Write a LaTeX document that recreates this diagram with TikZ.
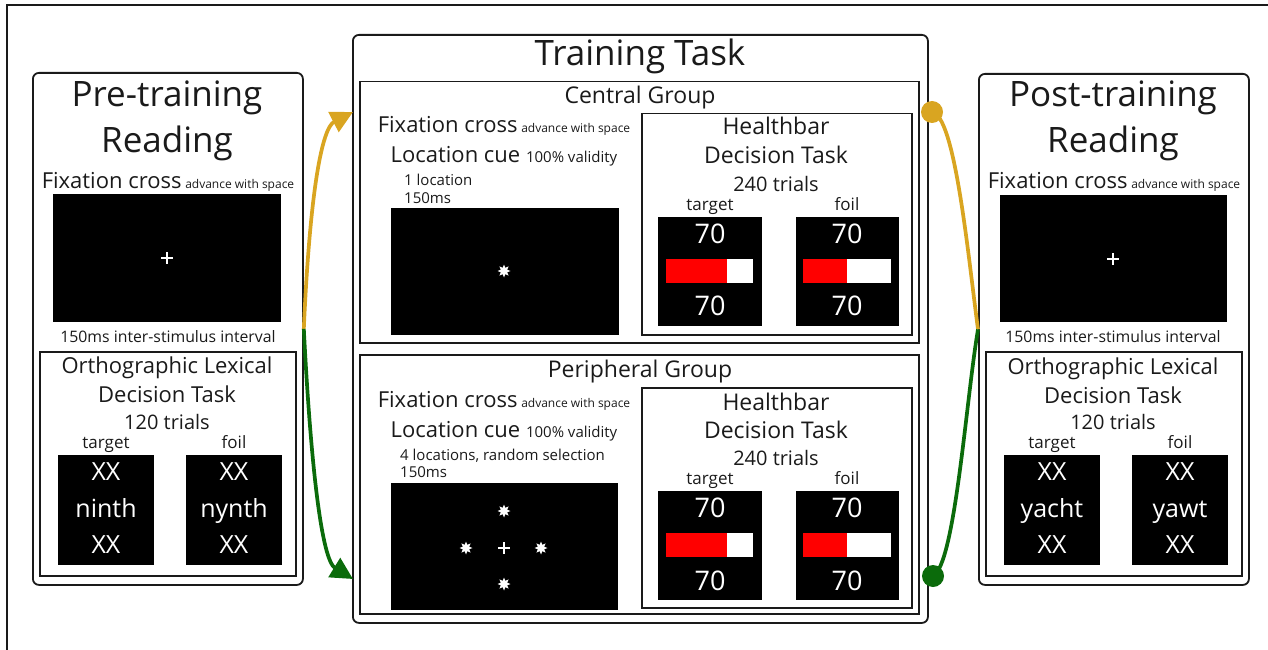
\documentclass[tikz,border=0pt]{standalone}
\usepackage{fontspec}
\setmainfont{Open Sans}
\usetikzlibrary{arrows.meta,shapes.geometric}
\definecolor{gold}{HTML}{D9A521}
\definecolor{dgreen}{HTML}{0B6B0B}
\definecolor{barred}{HTML}{FF0000}
\definecolor{ink}{HTML}{1A1A1A}
\newcommand\fsz[1]{\fontsize{#1}{#1}\selectfont}
\begin{document}
\begin{tikzpicture}[x=1pt,y=-1pt,
  panel/.style={draw=ink, line width=1.8pt, rounded corners=6pt, inner sep=0pt, anchor=north west},
  ibox/.style={draw=ink, line width=1.5pt, inner sep=0pt, anchor=north west},
  screen/.style={fill=black, inner sep=0pt, anchor=north west},
  T/.style={anchor=base, inner sep=0pt, text=ink},
  TL/.style={anchor=base west, inner sep=0pt, text=ink},
  W/.style={anchor=base, inner sep=0pt, text=white},
  cue/.style={star, star points=8, star point ratio=1.9, fill=white, inner sep=0pt, minimum size=13pt},
  plusmark/.style={white, line width=2pt},
  conn/.style={line width=3.7pt},
  tip/.style={-{Triangle[length=22pt,width=22pt]}},
  dotn/.style={circle, fill=#1, inner sep=0pt, minimum size=22pt},
  title/.style={font=\fsz{35}},
  big/.style={font=\fsz{22}},
  grp/.style={font=\fsz{23}},
  mid/.style={font=\fsz{20}},
  small/.style={font=\fsz{15}},
  isi/.style={font=\fsz{15.8}},
  lab/.style={font=\fsz{17}},
  num/.style={font=\fsz{27}},
  word/.style={font=\fsz{25}}
]
\useasboundingbox (0,0) rectangle (1268,650);
\draw[line width=1.3pt, ink] (7,650) -- (7,5) -- (1268,5);

% ---------------- Pre-training panel ----------------
\node[panel, minimum width=270pt, minimum height=512pt] (pre) at (32,72) {};
\node[T, title] (preT1) at (167,107) {Pre-training};
\node[T, title] (preT2) at (167,152) {Reading};
\node[T, big] (preFix) at (168,188) {Fixation cross\,{\fsz{12}advance with space}};
\node[screen, minimum width=228pt, minimum height=128pt] (preScr) at (53,194) {};
\draw[plusmark] (161,258) -- (173,258) (167,252) -- (167,264);
\node[T, isi] (preISI) at (168,342) {150ms inter-stimulus interval};
\node[ibox, minimum width=256pt, minimum height=224pt] (preLDT) at (39,351) {};
\node[T, big] (preL1) at (167,373) {Orthographic Lexical};
\node[T, big] (preL2) at (167,402) {Decision Task};
\node[T, mid] (preL3) at (167,429) {120 trials};
\node[T, lab] (preTg) at (106,448) {target};
\node[T, lab] (preFo) at (234,448) {foil};
\node[screen, minimum width=96pt, minimum height=110pt] (preTgS) at (58,455) {};
\node[screen, minimum width=96pt, minimum height=110pt] (preFoS) at (186,455) {};
\node[W, word] (preTa) at (106,480) {XX};
\node[W, word] (preTb) at (106,517) {ninth};
\node[W, word] (preTc) at (106,553) {XX};
\node[W, word] (preFa) at (234,480) {XX};
\node[W, word] (preFb) at (234,517) {nynth};
\node[W, word] (preFc) at (234,553) {XX};

% ---------------- Training panel ----------------
\node[panel, minimum width=575pt, minimum height=588pt] (train) at (352,34) {};
\node[T, title] (trT) at (640,66) {Training Task};

% Central group
\node[ibox, minimum width=559pt, minimum height=261pt] (cg) at (359,81) {};
\node[T, grp] (cgT) at (640,104) {Central Group};
\node[T, big] (cgFix) at (504,132) {Fixation cross\,{\fsz{12}advance with space}};
\node[T, big] (cgLoc) at (504,162) {Location cue {\fsz{15}100\% validity}};
\node[TL, small] (cgL1) at (404,185) {1 location};
\node[TL, small] (cgL2) at (404,203) {150ms};
\node[screen, minimum width=228pt, minimum height=127pt] (cgScr) at (391,208) {};
\node[cue] (cgS) at (504,271) {};
\node[ibox, minimum width=270pt, minimum height=221pt] (cgH) at (641,113) {};
\node[T, grp] (cgH1) at (776,135) {Healthbar};
\node[T, grp] (cgH2) at (776,163) {Decision Task};
\node[T, mid] (cgH3) at (776,191) {240 trials};
\node[T, lab] (cgTg) at (710,210) {target};
\node[T, lab] (cgFo) at (847,210) {foil};
\node[screen, minimum width=104pt, minimum height=109pt] (cgTgS) at (658,217) {};
\node[screen, minimum width=103pt, minimum height=109pt] (cgFoS) at (796,217) {};
\node[W, num] (cgTa) at (710,243) {70};
\node[W, num] (cgTb) at (710,315) {70};
\node[W, num] (cgFa) at (847,243) {70};
\node[W, num] (cgFb) at (847,315) {70};
\fill[white] (666,259) rectangle (753,283);
\fill[barred] (666,259) rectangle (727,283);
\fill[white] (803,259) rectangle (891,283);
\fill[barred] (803,259) rectangle (847,283);

% Peripheral group
\node[ibox, minimum width=559pt, minimum height=259pt] (pg) at (359,354) {};
\node[T, grp] (pgT) at (640,377) {Peripheral Group};
\node[T, big] (pgFix) at (504,407) {Fixation cross\,{\fsz{12}advance with space}};
\node[T, big] (pgLoc) at (504,437) {Location cue {\fsz{15}100\% validity}};
\node[TL, small] (pgL1) at (400,460) {4 locations, random selection};
\node[TL, small] (pgL2) at (400,477) {150ms};
\node[screen, minimum width=227pt, minimum height=127pt] (pgScr) at (391,483) {};
\node[cue] (pgS1) at (504,511) {};
\node[cue] (pgS2) at (466,548) {};
\node[cue] (pgS3) at (541,548) {};
\node[cue] (pgS4) at (504,584) {};
\draw[plusmark] (498,548) -- (510,548) (504,542) -- (504,554);
\node[ibox, minimum width=270pt, minimum height=220pt] (pgH) at (641,387) {};
\node[T, grp] (pgH1) at (776,410) {Healthbar};
\node[T, grp] (pgH2) at (776,438) {Decision Task};
\node[T, mid] (pgH3) at (776,465) {240 trials};
\node[T, lab] (pgTg) at (710,484) {target};
\node[T, lab] (pgFo) at (847,484) {foil};
\node[screen, minimum width=104pt, minimum height=109pt] (pgTgS) at (658,491) {};
\node[screen, minimum width=103pt, minimum height=109pt] (pgFoS) at (796,491) {};
\node[W, num] (pgTa) at (710,517) {70};
\node[W, num] (pgTb) at (710,590) {70};
\node[W, num] (pgFa) at (847,517) {70};
\node[W, num] (pgFb) at (847,590) {70};
\fill[white] (666,533) rectangle (753,557);
\fill[barred] (666,533) rectangle (727,557);
\fill[white] (803,533) rectangle (891,557);
\fill[barred] (803,533) rectangle (847,557);

% ---------------- Post-training panel ----------------
\node[panel, minimum width=270pt, minimum height=511pt] (post) at (978,73) {};
\node[T, title] (poT1) at (1113,107) {Post-training};
\node[T, title] (poT2) at (1113,152) {Reading};
\node[T, big] (poFix) at (1114,188) {Fixation cross\,{\fsz{12}advance with space}};
\node[screen, minimum width=227pt, minimum height=127pt] (poScr) at (1000,195) {};
\draw[plusmark] (1107,259) -- (1119,259) (1113,253) -- (1113,265);
\node[T, isi] (poISI) at (1113,342) {150ms inter-stimulus interval};
\node[ibox, minimum width=256pt, minimum height=224pt] (poLDT) at (985,351) {};
\node[T, big] (poL1) at (1113,374) {Orthographic Lexical};
\node[T, big] (poL2) at (1113,403) {Decision Task};
\node[T, mid] (poL3) at (1113,429) {120 trials};
\node[T, lab] (poTg) at (1052,448) {target};
\node[T, lab] (poFo) at (1180,448) {foil};
\node[screen, minimum width=96pt, minimum height=110pt] (poTgS) at (1004,455) {};
\node[screen, minimum width=96pt, minimum height=110pt] (poFoS) at (1132,455) {};
\node[W, word] (poTa) at (1052,480) {XX};
\node[W, word] (poTb) at (1052,517) {yacht};
\node[W, word] (poTc) at (1052,553) {XX};
\node[W, word] (poFa) at (1180,480) {XX};
\node[W, word] (poFb) at (1180,517) {yawt};
\node[W, word] (poFc) at (1180,553) {XX};

% ---------------- Connectors ----------------
\coordinate (trInC) at (353,112);
\coordinate (trInP) at (353,579);
\draw[gold, conn, tip] (pre.east) .. controls (310,190) and (322,128) .. (trInC);
\draw[dgreen, conn, tip] (pre.east) .. controls (311,470) and (322,560) .. (trInP);
\node[dotn=gold] (dotC) at (932,112) {};
\node[dotn=dgreen] (dotP) at (933,576) {};
\draw[gold, conn] (dotC.center) .. controls (955,115) and (968,255) .. (post.west);
\draw[dgreen, conn] (dotP.center) .. controls (955,565) and (966,400) .. (post.west);
\end{tikzpicture}
\end{document}
